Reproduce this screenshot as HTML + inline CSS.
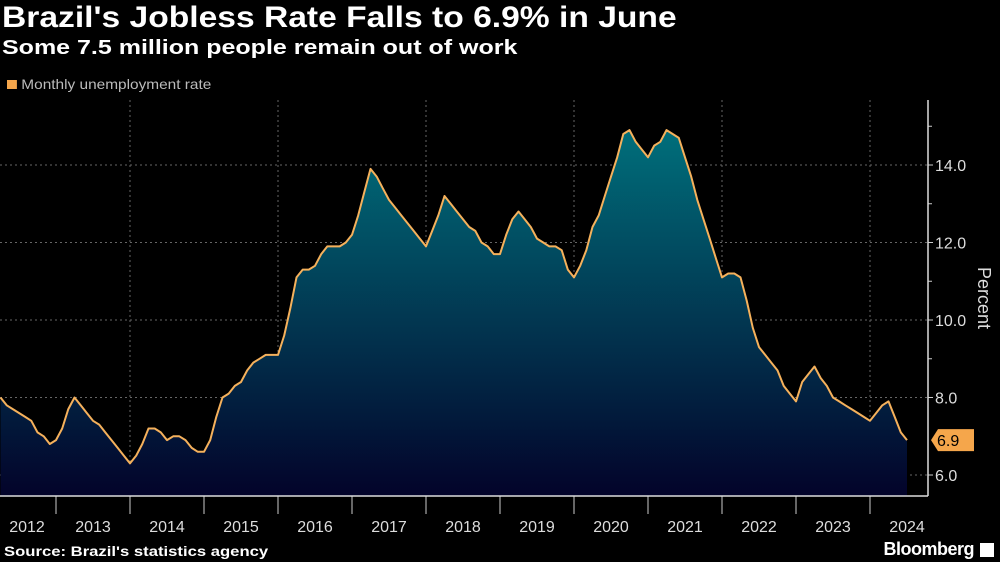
<!DOCTYPE html>
<html><head><meta charset="utf-8"><style>
body{margin:0;background:#000;width:1000px;height:562px;overflow:hidden;font-family:"Liberation Sans",sans-serif;color:#fff}
.t{position:absolute;left:2px;top:1px;font-size:30px;font-weight:bold;transform:scaleX(1.12);transform-origin:0 0;white-space:nowrap}
.s{position:absolute;left:2px;top:37px;font-size:20px;font-weight:bold;transform:scaleX(1.25);transform-origin:0 0;white-space:nowrap}
.l{position:absolute;left:7px;top:76px;font-size:14px;color:#bbb;transform:scaleX(1.1);transform-origin:0 0;white-space:nowrap}
.l i{display:inline-block;width:9px;height:9px;background:#f5a64b;margin-right:4px}
.src{position:absolute;left:4px;top:543px;font-size:14px;font-weight:bold;transform:scaleX(1.19);transform-origin:0 0;white-space:nowrap}
.bb{position:absolute;right:26px;top:539px;font-size:18px;font-weight:bold;letter-spacing:-0.5px}
</style></head><body>
<div class="t">Brazil's Jobless Rate Falls to 6.9% in June</div>
<div class="s">Some 7.5 million people remain out of work</div>
<div class="l"><i></i>Monthly unemployment rate</div>
<svg id="c" width="1000" height="562" style="position:absolute;left:0;top:0">
<defs><linearGradient id="g" x1="0" y1="0" x2="0" y2="1" gradientUnits="userSpaceOnUse"><stop offset="0" stop-color="#00707c"/><stop offset="1" stop-color="#03032a"/></linearGradient></defs>
</svg>
<div class="src">Source: Brazil's statistics agency</div>
<div class="bb">Bloomberg</div>
<div style="position:absolute;right:6px;top:543px;width:14px;height:14px;background:#fff"></div>
<script>
const values=[8.0,7.8,7.7,7.6,7.5,7.4,7.1,7.0,6.8,6.9,
7.2,7.7,8.0,7.8,7.6,7.4,7.3,7.1,6.9,6.7,6.5,6.3,
6.5,6.8,7.2,7.2,7.1,6.9,7.0,7.0,6.9,6.7,6.6,6.6,
6.9,7.5,8.0,8.1,8.3,8.4,8.7,8.9,9.0,9.1,9.1,9.1,
9.6,10.3,11.1,11.3,11.3,11.4,11.7,11.9,11.9,11.9,12.0,12.2,
12.7,13.3,13.9,13.7,13.4,13.1,12.9,12.7,12.5,12.3,12.1,11.9,
12.3,12.7,13.2,13.0,12.8,12.6,12.4,12.3,12.0,11.9,11.7,11.7,
12.2,12.6,12.8,12.6,12.4,12.1,12.0,11.9,11.9,11.8,11.3,11.1,
11.4,11.8,12.4,12.7,13.2,13.7,14.2,14.8,14.9,14.6,14.4,14.2,
14.5,14.6,14.9,14.8,14.7,14.2,13.7,13.1,12.6,12.1,11.6,11.1,
11.2,11.2,11.1,10.5,9.8,9.3,9.1,8.9,8.7,8.3,8.1,7.9,
8.4,8.6,8.8,8.5,8.3,8.0,7.9,7.8,7.7,7.6,7.5,7.4,
7.6,7.8,7.9,7.5,7.1,6.9];
const startMonth=3;
const years=[2012,2013,2014,2015,2016,2017,2018,2019,2020,2021,2022,2023,2024];
const yTicks=[6,8,10,12,14];
const NS="http://www.w3.org/2000/svg";
const svg=document.getElementById('c');
const X=m=>-18+m*74/12;
const Y=v=>475-(v-6)*38.75;
const bottom=496, axisX=928;
function el(t,a){const e=document.createElementNS(NS,t);for(const k in a)e.setAttribute(k,a[k]);svg.appendChild(e);return e;}
document.querySelector('#g').setAttribute('y1',Y(15));document.querySelector('#g').setAttribute('y2',bottom);
yTicks.forEach(v=>{
 const g=el('line',{x1:0,x2:axisX,y1:Y(v),y2:Y(v),stroke:'#666','stroke-dasharray':'2,3','stroke-width':1});
 
 
 el('line',{x1:axisX,x2:axisX+5,y1:Y(v),y2:Y(v),stroke:'#ccc'});
 const t=el('text',{x:axisX+7,y:Y(v)+6,fill:'#ddd','font-size':'16','font-family':'Liberation Sans'});
 t.textContent=v.toFixed(1);
 
 
});
[9,11,13,15].forEach(v=>{el('line',{x1:axisX,x2:axisX+4,y1:Y(v),y2:Y(v),stroke:'#ccc'});});
years.forEach((yr,i)=>{
 const x=X(i*12);
 if(i>0){el('line',{x1:x,x2:x,y1:bottom,y2:bottom+18,stroke:'#ccc'});}
 if(i>0&&i%2===0){const g=el('line',{x1:x,x2:x,y1:100,y2:bottom,stroke:'#666','stroke-dasharray':'2,3'});
  
  }
 const cx=Math.max(27,X(i*12+6));
 const t=el('text',{x:cx,y:532,fill:'#ddd','font-size':'16','text-anchor':'middle','font-family':'Liberation Sans'});
 t.textContent=yr;
 
 
});
const pts=values.map((v,i)=>[X(startMonth+i),Y(v)]);
let d='M'+pts.map(p=>p[0].toFixed(1)+','+p[1].toFixed(1)).join('L');
const area=el('path',{d:d+'L'+pts[pts.length-1][0]+','+bottom+'L'+pts[0][0]+','+bottom+'Z',fill:'url(#g)'});


const line=el('path',{d:d,fill:'none',stroke:'#f5b15c','stroke-width':2,'stroke-linejoin':'round'});


el('line',{x1:0,x2:axisX,y1:bottom,y2:bottom,stroke:'#ddd','stroke-width':1.5});
el('line',{x1:axisX,x2:axisX,y1:100,y2:bottom,stroke:'#ddd','stroke-width':1.5});
const last=values[values.length-1],ly=Y(last);
const tag=el('path',{d:`M${axisX+3},${ly} L${axisX+10},${ly-11} L974,${ly-11} L974,${ly+11} L${axisX+10},${ly+11}Z`,fill:'#f5a64b'});


const tt=el('text',{x:axisX+9,y:ly+6,fill:'#000','font-size':'16','font-family':'Liberation Sans'});
tt.textContent=last.toFixed(1);


const yt=el('text',{x:978,y:298,fill:'#ddd','font-size':'18','text-anchor':'middle','font-family':'Liberation Sans',transform:'rotate(90 978 298)'});
yt.textContent='Percent';


</script>
</body></html>
